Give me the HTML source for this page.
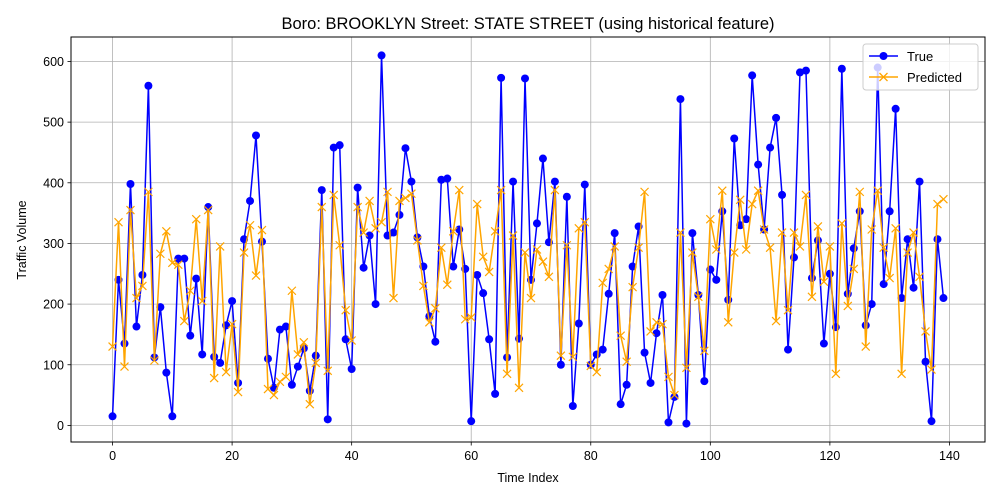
<!DOCTYPE html>
<html><head><meta charset="utf-8"><style>
html,body{margin:0;padding:0;background:#fff;}
svg{display:block;font-family:"Liberation Sans","DejaVu Sans",sans-serif;}
</style></head><body>
<svg id="chart" width="1000" height="500" xmlns="http://www.w3.org/2000/svg">
<text x="528" y="29" font-size="16.5" text-anchor="middle">Boro: BROOKLYN Street: STATE STREET (using historical feature)</text>
<g id="grid"></g>
<g id="series"></g>
<rect x="71" y="37" width="914" height="405" fill="none" stroke="#000" stroke-width="1"/>
<g id="axes"></g>
<text x="528" y="482" font-size="12.5" text-anchor="middle">Time Index</text>
<text transform="translate(26,240) rotate(-90)" font-size="12.5" text-anchor="middle">Traffic Volume</text>
<g>
<rect x="863" y="44" width="115" height="46" rx="3" fill="#fff" fill-opacity="0.8" stroke="#ccc"/>
<g>
<line x1="869" y1="56" x2="898" y2="56" stroke="blue" stroke-width="1.5"/>
<circle cx="883.5" cy="56" r="4" fill="blue"/>
<text x="907" y="61" font-size="13">True</text>
</g>
<g>
<line x1="869" y1="77" x2="898" y2="77" stroke="orange" stroke-width="1.5"/>
<path d="M879.5 73 L887.5 81 M879.5 81 L887.5 73" stroke="orange" stroke-width="1.3"/>
<text x="907" y="82" font-size="13">Predicted</text>
</g>
</g>
</svg>
<script>
const trueValues=[15,240,135,398,163,248,560,112,195,87,15,275,275,148,242,117,360,113,103,165,205,70,307,370,478,303,110,62,158,163,67,97,127,57,115,388,10,458,462,142,93,392,260,313,200,610,313,318,347,457,402,310,262,180,138,405,407,262,323,258,7,248,218,142,52,573,112,402,143,572,240,333,440,302,402,100,377,32,168,397,100,117,125,217,317,35,67,262,328,120,70,152,215,5,47,538,3,317,215,73,257,240,353,207,473,330,340,577,430,323,458,507,380,125,277,582,585,243,305,135,250,162,588,217,292,353,165,200,590,233,353,522,210,307,227,402,105,7,307,210];
const predictedValues=[130,335,97,355,210,230,385,107,283,320,268,265,172,222,340,205,355,78,295,88,167,55,285,330,247,322,60,50,72,80,222,117,137,35,103,360,90,380,297,190,140,360,318,370,325,335,385,210,370,375,382,305,230,170,193,293,232,320,388,175,178,365,278,253,320,388,85,313,62,285,210,290,270,245,388,115,297,113,325,335,98,88,235,258,295,148,105,228,293,385,155,170,167,80,50,318,95,285,212,123,340,290,387,170,285,372,290,365,387,323,293,172,318,190,318,295,380,212,328,237,295,85,333,197,258,385,130,323,387,293,243,325,85,285,318,245,155,92,365,373];
const xTicks=[0,20,40,60,80,100,120,140];
const yTicks=[0,100,200,300,400,500,600];
const NS="http://www.w3.org/2000/svg";
const L=71,R=985,T=37,B=442,xmin=-6.95,xmax=145.95,ymin=-27.35,ymax=640.35;
function xs(v){return L+(v-xmin)/(xmax-xmin)*(R-L);}
function ys(v){return B-(v-ymin)/(ymax-ymin)*(B-T);}
function mk(tag,attrs,parent){const e=document.createElementNS(NS,tag);for(const k in attrs)e.setAttribute(k,attrs[k]);parent.appendChild(e);return e;}
const grid=document.getElementById('grid'),axes=document.getElementById('axes'),ser=document.getElementById('series');
xTicks.forEach(t=>{const x=xs(t);
const g=mk('line',{x1:x,x2:x,y1:T,y2:B,stroke:'#b0b0b0','stroke-width':0.8},grid);


mk('line',{x1:x,x2:x,y1:B,y2:B+3.5,stroke:'#000','stroke-width':0.8},axes);
const tx=mk('text',{x:x,y:B+18,'font-size':12.5,'text-anchor':'middle'},axes);tx.textContent=t;

});
yTicks.forEach(t=>{const y=ys(t);
const g=mk('line',{x1:L,x2:R,y1:y,y2:y,stroke:'#b0b0b0','stroke-width':0.8},grid);


mk('line',{x1:L-3.5,x2:L,y1:y,y2:y,stroke:'#000','stroke-width':0.8},axes);
const tx=mk('text',{x:L-7,y:y+4.5,'font-size':12.5,'text-anchor':'end'},axes);tx.textContent=t;

});
function pts(a){return a.map((v,i)=>xs(i).toFixed(2)+','+ys(v).toFixed(2)).join(' ');}
const lt=mk('polyline',{points:pts(trueValues),fill:'none',stroke:'blue','stroke-width':1.5,'stroke-linejoin':'round'},ser);


trueValues.forEach((v,i)=>{const c=mk('circle',{cx:xs(i),cy:ys(v),r:4,fill:'blue'},ser);

});
const lp=mk('polyline',{points:pts(predictedValues),fill:'none',stroke:'orange','stroke-width':1.5,'stroke-linejoin':'round'},ser);


predictedValues.forEach((v,i)=>{const x=xs(i),y=ys(v),d=4;
const p=mk('path',{d:`M${x-d} ${y-d}L${x+d} ${y+d}M${x-d} ${y+d}L${x+d} ${y-d}`,stroke:'orange','stroke-width':1.2},ser);

});
</script>
</body></html>
